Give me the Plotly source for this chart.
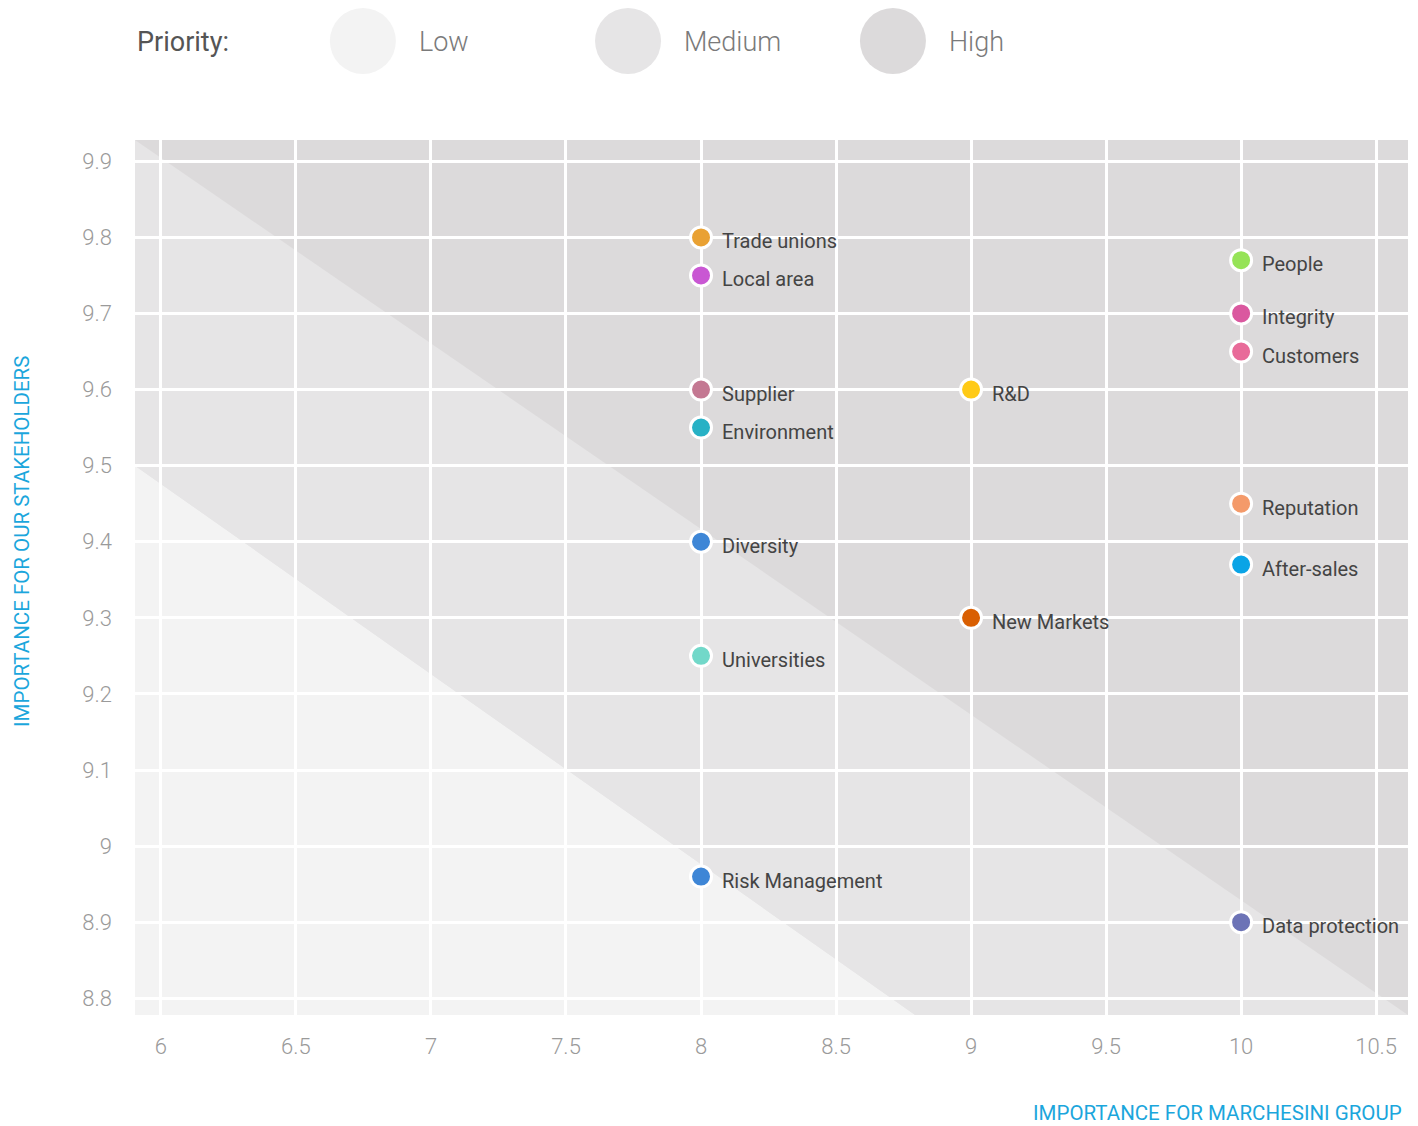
import plotly.graph_objects as go

# ---- data ----
topics = ["Trade unions", "Local area", "Supplier", "Environment", "Diversity",
          "Universities", "Risk Management", "R&D", "New Markets", "People",
          "Integrity", "Customers", "Reputation", "After-sales", "Data protection"]
group_importance = [8, 8, 8, 8, 8, 8, 8, 9, 9, 10, 10, 10, 10, 10, 10]
stakeholder_importance = [9.8, 9.75, 9.6, 9.55, 9.4, 9.25, 8.96, 9.6, 9.3,
                          9.77, 9.7, 9.65, 9.45, 9.37, 8.9]
topic_colors = ["#e9a133", "#c957d3", "#c47892", "#27b1c5", "#3e86d6",
                "#72d8c9", "#3e86d6", "#ffca16", "#d95f02", "#96e357",
                "#da589f", "#e86b99", "#f49a6a", "#0aa4e6", "#6c73b6"]

x_ticks = [6, 6.5, 7, 7.5, 8, 8.5, 9, 9.5, 10, 10.5]
y_ticks = [8.8, 8.9, 9, 9.1, 9.2, 9.3, 9.4, 9.5, 9.6, 9.7, 9.8, 9.9]

priority_levels = ["Low", "Medium", "High"]
priority_colors = ["#f3f3f3", "#e6e5e6", "#dcdadb"]

X_RANGE = [5.904, 10.618]
Y_RANGE = [8.778, 9.928]
LOW_Y_LEFT = 9.5      # low band boundary at left edge
LOW_X_BOTTOM = 8.793  # low band boundary at bottom edge

FONT = "Roboto, sans-serif"

fig = go.Figure()

fig.add_trace(go.Scatter(
    x=group_importance, y=stakeholder_importance,
    mode="markers",
    text=topics,
    marker=dict(size=21, color=topic_colors, line=dict(color="white", width=3)),
    hoverinfo="text",
    showlegend=False,
    cliponaxis=False,
))

x0, x1 = X_RANGE
y0, y1 = Y_RANGE
shapes = [
    dict(type="path", xref="x", yref="y", layer="below", line=dict(width=0),
         fillcolor=priority_colors[0],
         path=f"M {x0},{y0} L {x0},{LOW_Y_LEFT} L {LOW_X_BOTTOM},{y0} Z"),
    dict(type="path", xref="x", yref="y", layer="below", line=dict(width=0),
         fillcolor=priority_colors[1],
         path=f"M {x0},{LOW_Y_LEFT} L {x0},{y1} L {x1},{y0} L {LOW_X_BOTTOM},{y0} Z"),
    dict(type="path", xref="x", yref="y", layer="below", line=dict(width=0),
         fillcolor=priority_colors[2],
         path=f"M {x0},{y1} L {x1},{y1} L {x1},{y0} Z"),
]

legend_centers = [0.179, 0.3873, 0.5954]
for cx, col in zip(legend_centers, priority_colors):
    shapes.append(dict(type="circle", xref="paper", yref="paper",
                       xsizemode="pixel", ysizemode="pixel",
                       xanchor=cx, yanchor=1.1131,
                       x0=-33, x1=33, y0=-33, y1=33,
                       line=dict(width=0), fillcolor=col))

annotations = []
for name, gx, sy in zip(topics, group_importance, stakeholder_importance):
    annotations.append(dict(text=name, x=gx, y=sy, xref="x", yref="y",
                            xanchor="left", yanchor="middle", xshift=19, yshift=-4,
                            showarrow=False,
                            font=dict(family=FONT, size=20, color="#444444")))

annotations.append(dict(text="Priority:", xref="paper", yref="paper", x=0.0, y=1.112,
                        xanchor="left", yanchor="middle", showarrow=False,
                        font=dict(family=FONT, size=27, color="#555555")))
for cx, lab in zip(legend_centers, priority_levels):
    annotations.append(dict(text=lab, xref="paper", yref="paper",
                            x=cx + 0.0424, y=1.112, xanchor="left", yanchor="middle",
                            showarrow=False,
                            font=dict(family=FONT, size=27, color="#7a7a7a", weight=300)))
annotations += [
    dict(text="IMPORTANCE FOR MARCHESINI GROUP", xref="paper", yref="paper",
         x=0.997, y=-0.112, xanchor="right", yanchor="middle", showarrow=False,
         font=dict(family=FONT, size=20.5, color="#1ba6dc")),
    dict(text="IMPORTANCE FOR OUR STAKEHOLDERS", xref="paper", yref="paper",
         x=-0.0888, y=0.5417, xanchor="center", yanchor="middle", showarrow=False,
         textangle=-90,
         font=dict(family=FONT, size=20.5, color="#1ba6dc")),
]

fig.update_layout(
    width=1418, height=1126,
    margin=dict(l=135, r=10, t=140, b=111),
    paper_bgcolor="white",
    plot_bgcolor=priority_colors[1],
    shapes=shapes,
    annotations=annotations,
    xaxis=dict(range=X_RANGE, tickvals=x_ticks, ticktext=[f"{v:g}" for v in x_ticks],
               showgrid=True, gridcolor="white", gridwidth=3, zeroline=False,
               showline=False, ticks="", ticklabelstandoff=16,
               tickfont=dict(family=FONT, size=22, color="#9a9a9a", weight=300)),
    yaxis=dict(range=Y_RANGE, tickvals=y_ticks, ticktext=[f"{v:g}" for v in y_ticks],
               showgrid=True, gridcolor="white", gridwidth=3, zeroline=False,
               showline=False, ticks="", ticklabelstandoff=22,
               tickfont=dict(family=FONT, size=22, color="#9a9a9a", weight=300)),
)

fig.write_html("out.html")
